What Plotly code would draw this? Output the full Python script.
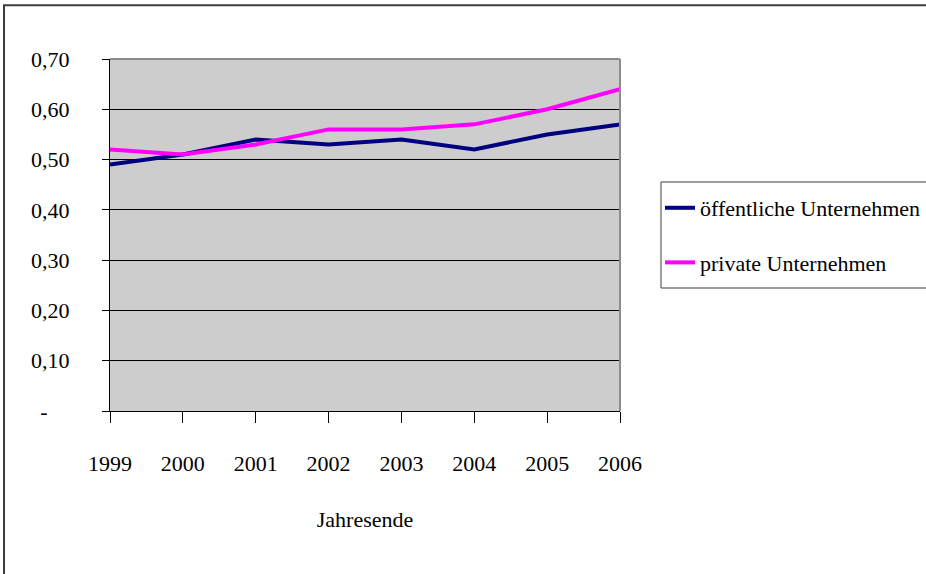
import plotly.graph_objects as go

# Jahresende-Werte je Unternehmensform
years = [1999, 2000, 2001, 2002, 2003, 2004, 2005, 2006]
oeffentlich = [0.49, 0.51, 0.54, 0.53, 0.54, 0.52, 0.55, 0.57]
privat = [0.52, 0.51, 0.53, 0.56, 0.56, 0.57, 0.60, 0.64]

y_ticks = [0.0, 0.1, 0.2, 0.3, 0.4, 0.5, 0.6, 0.7]
y_ticktext = ["-\u00a0\u00a0\u00a0\u00a0", "0,10", "0,20", "0,30", "0,40", "0,50", "0,60", "0,70"]

FONT = "Liberation Serif, Times New Roman, serif"

fig = go.Figure()
fig.add_trace(go.Scatter(
    x=years, y=oeffentlich, mode="lines", name="öffentliche Unternehmen",
    line=dict(color="#000080", width=4), legendgroup="a",
))
fig.add_trace(go.Scatter(
    x=years, y=privat, mode="lines", name="private Unternehmen",
    line=dict(color="#FF00FF", width=4), legendgroup="b",
))

# Grey frame along the top and right edge of the plot area
fig.add_shape(type="line", xref="x domain", yref="y domain", x0=0, x1=1, y0=1, y1=1,
              line=dict(color="#8C8C8C", width=2), layer="above")
fig.add_shape(type="line", xref="x domain", yref="y domain", x0=1, x1=1, y0=0, y1=1,
              line=dict(color="#8C8C8C", width=2), layer="above")

# Outer chart border
fig.add_shape(type="rect", xref="paper", yref="paper",
              x0=-0.2078, x1=1.62, y0=-0.5, y1=1.153,
              line=dict(color="#3C3C3C", width=2), layer="below")

# Legend box
fig.add_shape(type="rect", xref="paper", yref="paper",
              x0=1.0804, x1=1.65, y0=0.3494, y1=0.6506,
              line=dict(color="#3C3C3C", width=1), fillcolor="#FFFFFF", layer="below")

fig.update_layout(
    width=926, height=574,
    margin=dict(l=110, r=306, t=59, b=163, autoexpand=False),
    paper_bgcolor="#FFFFFF",
    plot_bgcolor="#CDCDCD",
    font=dict(family=FONT, size=22, color="#000000"),
    showlegend=True,
    legend=dict(
        x=1.0784, y=0.6364, xanchor="left", yanchor="top",
        bgcolor="rgba(0,0,0,0)", borderwidth=0,
        font=dict(family=FONT, size=22, color="#000000"),
        traceorder="grouped", tracegroupgap=23,
    ),
    xaxis=dict(
        range=[years[0], years[-1]],
        tickmode="array", tickvals=years, ticktext=[str(y) for y in years],
        showgrid=False, zeroline=False,
        showline=True, linecolor="#000000", linewidth=1,
        ticks="outside", ticklen=11, tickcolor="#000000", tickwidth=1,
        ticklabelstandoff=22,
        title=dict(text="Jahresende", standoff=36, font=dict(family=FONT, size=22)),
    ),
    yaxis=dict(
        range=[0, 0.7],
        tickmode="array", tickvals=y_ticks, ticktext=y_ticktext,
        showgrid=True, gridcolor="#000000", gridwidth=1, zeroline=False,
        showline=True, linecolor="#000000", linewidth=1,
        ticks="outside", ticklen=7, tickcolor="#000000", tickwidth=1,
        ticklabelstandoff=28,
    ),
)

fig.write_html("out.html")
